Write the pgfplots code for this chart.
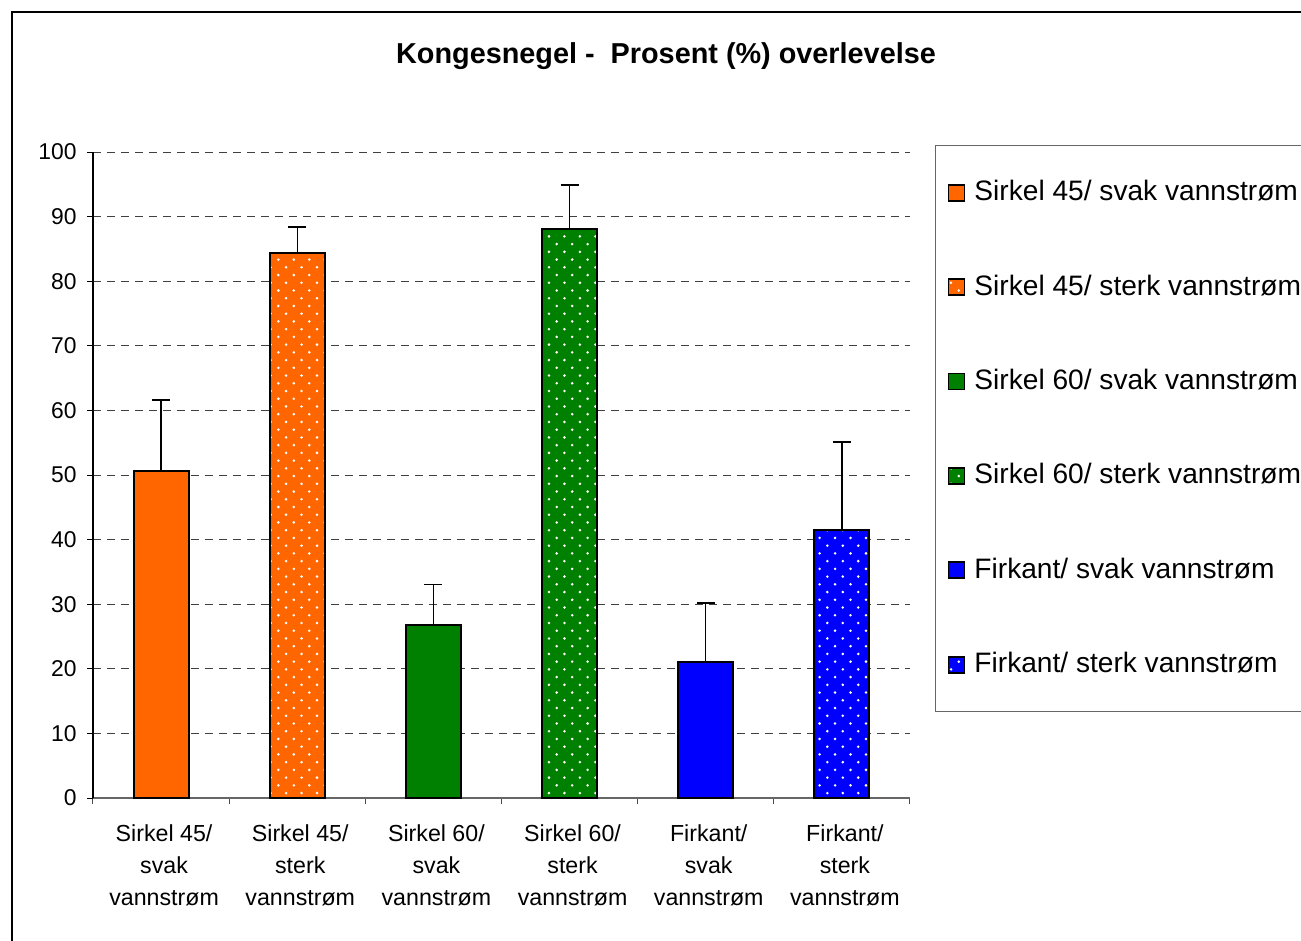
\documentclass[border=0pt]{standalone}
\usepackage{pgfplots}
\pgfplotsset{compat=1.18}
\usepackage{fontspec}
\setmainfont{Liberation Sans}
\usetikzlibrary{patterns}
\definecolor{cOrange}{HTML}{FF6600}
\definecolor{cGreen}{HTML}{008000}
\definecolor{cBlue}{HTML}{0000FF}
\pgfdeclarepatternformonly{sdots}{\pgfqpoint{-0.5pt}{-0.5pt}}{\pgfqpoint{3.9pt}{3.9pt}}{\pgfqpoint{4.4pt}{4.4pt}}{%
  \pgfpathcircle{\pgfqpoint{0pt}{0pt}}{0.4pt}%
  \pgfpathcircle{\pgfqpoint{2.2pt}{2.2pt}}{0.4pt}%
  \pgfusepath{fill}}
\begin{document}
\begin{tikzpicture}
\path[use as bounding box, clip] (0,0) rectangle (13.01,9.40);
\draw[line width=0.015cm, black] (0.12,9.28) rectangle (13.40,-0.40);
\node[font=\bfseries\fontsize{8.2}{9.6}\selectfont] at (6.66,8.84) {Kongesnegel -\ \ Prosent (\%) overlevelse};
\begin{axis}[
  at={(0.93cm,1.42cm)}, anchor=south west,
  scale only axis, width=8.17cm, height=6.46cm,
  xmin=-0.5, xmax=5.5, ymin=0, ymax=100,
  ytick={0,10,...,100},
  xtick={0,...,5},
  xticklabels={{Sirkel 45/\\svak\\vannstrøm},{Sirkel 45/\\sterk\\vannstrøm},{Sirkel 60/\\svak\\vannstrøm},{Sirkel 60/\\sterk\\vannstrøm},{Firkant/\\svak\\vannstrøm},{Firkant/\\sterk\\vannstrøm}},
  xticklabel style={align=center, font=\fontsize{6.6}{9.1}\selectfont, yshift=-0.08cm, xshift=0.03cm},
  yticklabel style={font=\fontsize{6.5}{8}\selectfont, xshift=0.02cm},
  /pgf/number format/assume math mode=true,
  major x tick style={draw=none},
  minor xtick={-0.5,0.5,...,5.5},
  minor x tick style={black!70, line width=0.01cm},
  major y tick style={black, line width=0.01cm},
  tick align=outside,
  major tick length=0.06cm, minor tick length=0.06cm,
  axis x line*=bottom, axis y line*=left,
  axis line style={-, line width=0.012cm},
  x axis line style={black!60},
  y axis line style={black},
  ymajorgrids,
  major grid style={black!75, line width=0.01cm, dash pattern=on 0.08cm off 0.06cm},
  legend style={at={(rel axis cs:1.0306,1.0108)}, anchor=north west,
    draw=black!60, line width=0.012cm,
    font=\fontsize{8}{9.6}\selectfont,
    inner xsep=0.12cm, inner ysep=0.30cm,
    nodes={inner sep=0.03cm, text height=0.22cm, text depth=0.06cm},
    row sep=0.604cm},
  legend cell align=left,
  legend image code/.code={\draw[#1, draw=black, line width=0.018cm] (0cm,-0.08cm) rectangle (0.16cm,0.08cm);
    \path (0.22cm,0) circle (0pt);},
  mybar/.style={ybar, bar width=0.55cm, bar shift=0pt, draw=black, line width=0.02cm,
    error bars/y dir=plus, error bars/y explicit,
    error bars/error bar style={black, line width=0.013cm},
    error bars/error mark options={black, line width=0.013cm, mark size=0.09cm, rotate=90}},
  dotted/.style={postaction={pattern=sdots, pattern color=white}},
]
\addplot[mybar, fill=cOrange] coordinates {(0,50.6) +- (0,11.0)};
\addlegendentry{Sirkel 45/ svak vannstrøm}
\addplot[mybar, fill=cOrange, dotted] coordinates {(1,84.4) +- (0,4.0)};
\addlegendentry{Sirkel 45/ sterk vannstrøm\hspace*{0.3cm}}
\addplot[mybar, fill=cGreen] coordinates {(2,26.8) +- (0,6.2)};
\addlegendentry{Sirkel 60/ svak vannstrøm}
\addplot[mybar, fill=cGreen, dotted] coordinates {(3,88.1) +- (0,6.8)};
\addlegendentry{Sirkel 60/ sterk vannstrøm}
\addplot[mybar, fill=cBlue] coordinates {(4,21.1) +- (0,9.1)};
\addlegendentry{Firkant/ svak vannstrøm}
\addplot[mybar, fill=cBlue, dotted] coordinates {(5,41.5) +- (0,13.6)};
\addlegendentry{Firkant/ sterk vannstrøm}
\end{axis}
\end{tikzpicture}
\end{document}
